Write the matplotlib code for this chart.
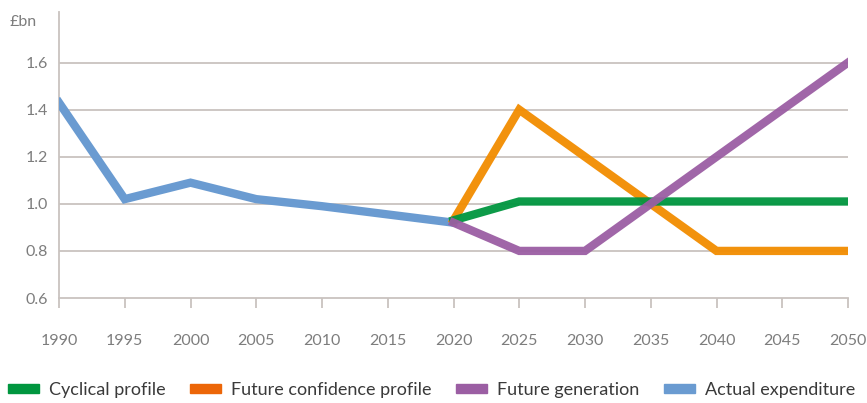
import matplotlib
matplotlib.use('Agg')
import matplotlib.pyplot as plt
from matplotlib.patches import Patch

plt.rcParams['font.family'] = ['Lato', 'DejaVu Sans']

#-------------------------------------------------------------------------------
# DATA

years_actual = [1990, 1995, 2000, 2005, 2010, 2015, 2020]
actual = [1.43, 1.02, 1.09, 1.02, 0.99, 0.955, 0.92]

years_proj = [2020, 2025, 2030, 2035, 2040, 2045, 2050]
cyclical = [0.93, 1.01, 1.01, 1.01, 1.01, 1.01, 1.01]
confidence = [0.93, 1.40, 1.20, 1.00, 0.80, 0.80, 0.80]
generation = [0.92, 0.80, 0.80, 1.00, 1.20, 1.40, 1.60]

xticks = list(range(1990, 2051, 5))
yticks = [0.6, 0.8, 1.0, 1.2, 1.4, 1.6]

labels = ['Cyclical profile', 'Future confidence profile', 'Future generation', 'Actual expenditure']

#-------------------------------------------------------------------------------
# PLOT

c_green = '#00963f'
c_orange = '#f28c00'
c_purple = '#9b5ea3'
c_blue = '#6a9bd1'
c_leg_orange = '#ec6608'
c_grid = '#c9c3bf'
c_text = '#7d7d7d'

fig = plt.figure(figsize=(8.67, 4.03), dpi=100)
ax = fig.add_axes([59/867, 1 - 298/403, (848 - 59)/867, (298 - 12)/403])

lw = 6
ax.plot(years_actual, actual, color=c_blue, lw=lw, solid_joinstyle='miter', zorder=3)
ax.plot(years_proj, confidence, color=c_orange, lw=lw, alpha=0.95, solid_joinstyle='miter', zorder=4)
ax.plot(years_proj, cyclical, color=c_green, lw=lw, alpha=0.95, solid_joinstyle='miter', zorder=5)
ax.plot(years_proj, generation, color=c_purple, lw=lw, alpha=0.95, solid_joinstyle='miter', zorder=6)

ax.set_xlim(1990, 2050)
ax.set_ylim(0.6, 1.815)
ax.set_yticks(yticks)
ax.set_yticklabels(['%.1f' % v for v in yticks])
ax.set_xticks(xticks)
ax.set_xticklabels([str(v) for v in xticks])

for v in yticks[1:]:
    ax.axhline(v, color=c_grid, lw=1.3, zorder=1)

for s in ['top', 'right']:
    ax.spines[s].set_visible(False)
ax.spines['left'].set_color(c_grid)
ax.spines['left'].set_linewidth(1.3)
ax.spines['bottom'].set_color(c_grid)
ax.spines['bottom'].set_linewidth(1.3)
ax.tick_params(axis='y', length=0, pad=8, labelsize=11.5, labelcolor=c_text)
ax.tick_params(axis='x', length=7, width=1.3, color=c_grid, pad=19, labelsize=11.5, labelcolor=c_text)
ax.set_clip_on(False)

fig.text(10/867, 1 - 22/403, '£bn', ha='left', va='center', fontsize=11.5, color=c_text)

handles = [Patch(color=c) for c in (c_green, c_leg_orange, c_purple, c_blue)]
fig.legend(handles, labels, loc='center', bbox_to_anchor=(431.5/867, 1 - 390/403), ncol=4,
           frameon=False, fontsize=13, handlelength=1.7,
           handleheight=0.4, columnspacing=1.36, handletextpad=0.57, borderpad=0,
           borderaxespad=0, labelcolor='#3a3a3a')

fig.savefig('out.png', dpi=100)
